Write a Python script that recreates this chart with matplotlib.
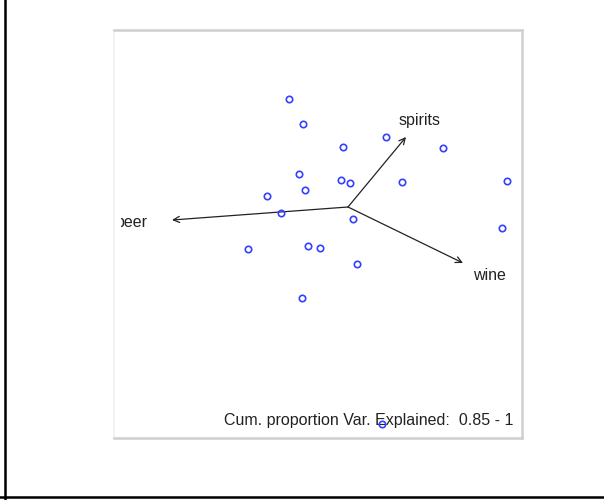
import matplotlib
matplotlib.use("Agg")
import matplotlib.pyplot as plt
from matplotlib.lines import Line2D
from matplotlib.transforms import Bbox

plt.rcParams['font.family'] = ['Liberation Sans', 'DejaVu Sans']

# Principal component scores of the observations
pc1 = [-0.59, -0.45, -0.05, 0.38, 0.95, -0.49, -0.07, 0.02, -0.43, 0.54,
       1.59, -0.81, -0.67, 0.05, 1.54, -1.00, -0.40, -0.28, 0.09, -0.46, 0.34]
pc2 = [1.08, 0.83, 0.60, 0.70, 0.59, 0.33, 0.27, 0.24, 0.17, 0.25,
       0.26, 0.11, -0.06, -0.12, -0.21, -0.42, -0.39, -0.41, -0.57, -0.91, -2.17]

# Variable loadings (arrow tips)
variables = ['beer', 'spirits', 'wine']
load1 = [-1.76, 0.58, 1.15]
load2 = [-0.13, 0.70, -0.56]
label_scale = 1.23

caption = 'Cum. proportion Var. Explained:  0.85 - 1'

fig = plt.figure(figsize=(6.04, 5.00), dpi=100)
ax = fig.add_axes([114 / 604, 1 - 438 / 500, 408 / 604, 408 / 500])
ax.set_xlim(-2.34, 1.74)
ax.set_ylim(-2.31, 1.77)
ax.set_xticks([])
ax.set_yticks([])
for side in ('top', 'right', 'bottom'):
    ax.spines[side].set_color('#cfcfcf')
    ax.spines[side].set_linewidth(1.8)
ax.spines['left'].set_color('#f0f0f0')
ax.spines['left'].set_linewidth(1.2)

# Inner drawing region for the variable labels (slightly inset on the left)
label_clip = Bbox.from_extents(121, 62, 522, 470)

for name, x, y in zip(variables, load1, load2):
    ax.annotate('', xy=(x, y), xytext=(0, 0),
                arrowprops=dict(arrowstyle='->', color='#222222', lw=0.9,
                                mutation_scale=11, shrinkA=0, shrinkB=0))
    t = ax.text(x * label_scale, y * label_scale, name, ha='center', va='center',
                fontsize=11.5, color='#222222')
    t.set_clip_on(True)
    t.set_clip_box(label_clip)

ax.text(0.98, 0.042, caption, transform=ax.transAxes, ha='right', va='center',
        fontsize=11.5, color='#222222', zorder=2)

ax.plot(pc1, pc2, linestyle='none', marker='o', markersize=4.6,
        markerfacecolor='none', markeredgecolor='#3340ff', markeredgewidth=1.2,
        zorder=3)

# Outer frame lines (left and bottom)
fig.add_artist(Line2D([4.5 / 604, 4.5 / 604], [0, 1], transform=fig.transFigure,
                      color='black', lw=1.8))
fig.add_artist(Line2D([0, 1], [3.5 / 500, 3.5 / 500], transform=fig.transFigure,
                      color='black', lw=1.8))

fig.savefig('out.png', dpi=100)
